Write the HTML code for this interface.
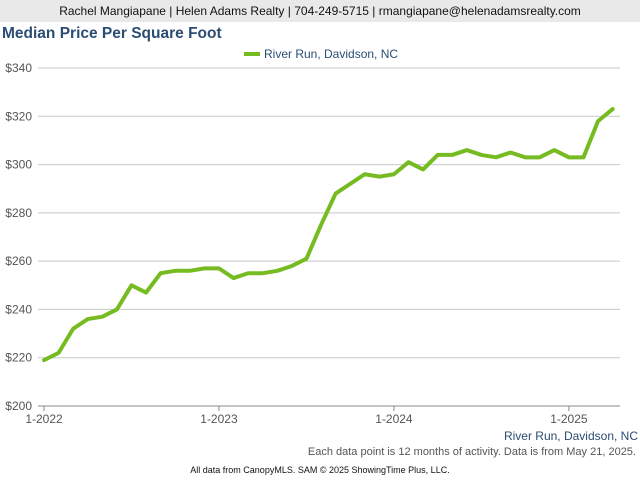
<!DOCTYPE html>
<html><head><meta charset="utf-8"><style>
body{margin:0;width:640px;height:480px;background:#fff;font-family:"Liberation Sans",Arial,sans-serif;position:relative;overflow:hidden}
.hdr{position:absolute;left:0;top:0;width:640px;height:22px;background:#e9e9e9;font-size:12px;line-height:22px;text-align:center;color:#111}
.ttl{position:absolute;left:2px;top:25px;font-size:15.5px;font-weight:bold;color:#2b4d73}
</style></head><body>
<div class="hdr">Rachel Mangiapane | Helen Adams Realty | 704-249-5715 | rmangiapane@helenadamsrealty.com</div>
<div class="ttl">Median Price Per Square Foot</div>
<svg id="chart" width="640" height="480" style="position:absolute;left:0;top:0"></svg>
<script>
const yTicks=[200,220,240,260,280,300,320,340];
const xLabels=["1-2022","1-2023","1-2024","1-2025"];
const seriesName="River Run, Davidson, NC";
const values=[219,222,232,236,237,240,250,247,255,256,256,257,257,253,255,255,256,258,261,275,288,292,296,295,296,301,298,304,304,306,304,303,305,303,303,306,303,303,318,323];
const NS="http://www.w3.org/2000/svg";
const svg=document.getElementById('chart');
const x0=44,pxPerMonth=14.58,yTop=68,yBot=406;
const X=i=>x0+i*pxPerMonth;
const Y=v=>yBot-(v-200)/(140)*(yBot-yTop);
function mk(t,a){const e=document.createElementNS(NS,t);for(const k in a)e.setAttribute(k,a[k]);svg.appendChild(e);return e;}
yTicks.forEach(v=>{
 const l=mk('line',{x1:38,x2:620,y1:Y(v),y2:Y(v),stroke:v===200?'#888':'#c8c8c8','stroke-width':1});
 
 
 const t=mk('text',{x:32,y:Y(v)+4,'text-anchor':'end','font-size':12,fill:'#555','font-family':'Liberation Sans, sans-serif'});
 t.textContent='$'+v;
 
 
});
xLabels.forEach((s,i)=>{
 const x=X(i*12);
 const tk=mk('line',{x1:x,x2:x,y1:yBot,y2:yBot+5,stroke:'#888'});
 
 
 const t=mk('text',{x:x,y:yBot+17,'text-anchor':'middle','font-size':12,fill:'#555','font-family':'Liberation Sans, sans-serif'});
 t.textContent=s;
 
 
});
const p=mk('polyline',{points:values.map((v,i)=>X(i)+','+Y(v)).join(' '),fill:'none',stroke:'#77bb22','stroke-width':4,'stroke-linejoin':'round','stroke-linecap':'round'});


const lg=mk('line',{x1:244,x2:260,y1:54,y2:54,stroke:'#77bb22','stroke-width':4});


const lt=mk('text',{x:264,y:58,'font-size':12,fill:'#2b4d73','font-family':'Liberation Sans, sans-serif'});
lt.textContent=seriesName;


function txt(s,x,y,sz,fill,anchor,name){const t=mk('text',{x:x,y:y,'font-size':sz,fill:fill,'text-anchor':anchor,'font-family':'Liberation Sans, sans-serif'});t.textContent=s;
 
 }
txt(seriesName,638,440,12,'#2b4d73','end','area-label');
txt('Each data point is 12 months of activity. Data is from May 21, 2025.',636,455,11,'#555','end','footnote');
txt('All data from CanopyMLS. SAM © 2025 ShowingTime Plus, LLC.',320,473,9,'#111','middle','copyright');
</script>
</body></html>
